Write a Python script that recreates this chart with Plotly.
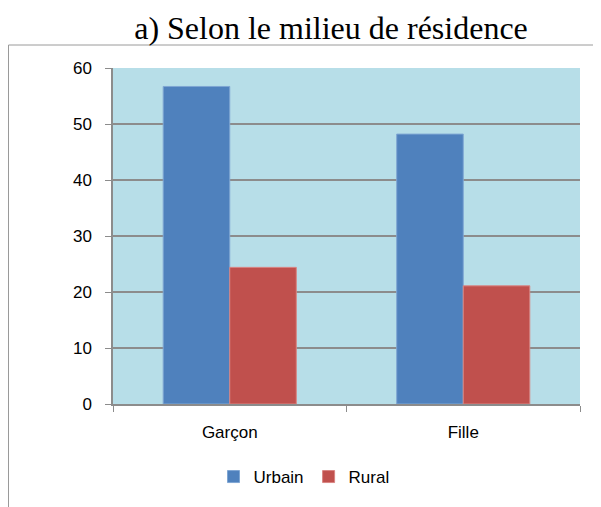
import plotly.graph_objects as go

categories = ["Garçon", "Fille"]
urbain = [56.7, 48.2]
rural = [24.4, 21.1]
y_ticks = [0, 10, 20, 30, 40, 50, 60]

BLEU = "#4F81BD"
ROUGE = "#C0504D"
FOND = "#B7DEE8"
GRIS = "#8C8C8C"

# la page ajoute 8px de marge au body : on compense
W, H = 593, 499
L, T = 105, 60
PW, PH = 467, 336

fig = go.Figure()
fig.add_trace(go.Bar(
    name="Urbain", x=categories, y=urbain,
    marker=dict(color=BLEU, line=dict(color="#7FA6D3", width=1)),
))
fig.add_trace(go.Bar(
    name="Rural", x=categories, y=rural,
    marker=dict(color=ROUGE, line=dict(color="#D98583", width=1)),
))

fig.update_layout(
    width=W, height=H,
    barmode="group", bargap=0.43, bargroupgap=0,
    paper_bgcolor="white", plot_bgcolor=FOND,
    font=dict(family="Liberation Sans", size=17, color="black"),
    margin=dict(l=L, r=W - L - PW, t=T, b=H - T - PH),
    title=dict(
        text="a) Selon le milieu de résidence",
        font=dict(family="Liberation Serif", size=32, color="black"),
        x=323 / W, xanchor="center", y=1 - 20 / H, yanchor="middle",
    ),
    xaxis=dict(
        showline=True, linecolor=GRIS, linewidth=1.5,
        ticks="outside", tickson="boundaries", ticklen=6, tickcolor=GRIS,
        showgrid=False, tickfont=dict(size=17), ticklabelstandoff=12,
    ),
    yaxis=dict(
        range=[0, 60], tickvals=y_ticks,
        showline=True, linecolor=GRIS, linewidth=1.5,
        ticks="outside", ticklen=6, tickcolor=GRIS,
        showgrid=True, gridcolor=GRIS, gridwidth=1.5,
        zeroline=False, tickfont=dict(size=17), ticklabelstandoff=10,
    ),
    legend=dict(
        orientation="h", x=(304 - 8 - L) / PW, xanchor="center",
        y=-(477 - 8 - T - PH) / PH, yanchor="middle",
        font=dict(size=17), bgcolor="rgba(0,0,0,0)",
        itemwidth=30, tracegroupgap=0,
    ),
    showlegend=True,
    shapes=[
        dict(type="line", xref="paper", yref="paper",
             x0=(0.5 - L) / PW, x1=(0.5 - L) / PW,
             y0=1 + (T - 37) / PH, y1=1 - (H - T + 8) / PH,
             line=dict(color="#9A9A9A", width=1)),
        dict(type="line", xref="paper", yref="paper",
             x0=(0.5 - L) / PW, x1=(W + 8 - L) / PW,
             y0=1 + (T - 37) / PH, y1=1 + (T - 37) / PH,
             line=dict(color="#9A9A9A", width=1)),
    ],
)

fig.write_html("out.html")
